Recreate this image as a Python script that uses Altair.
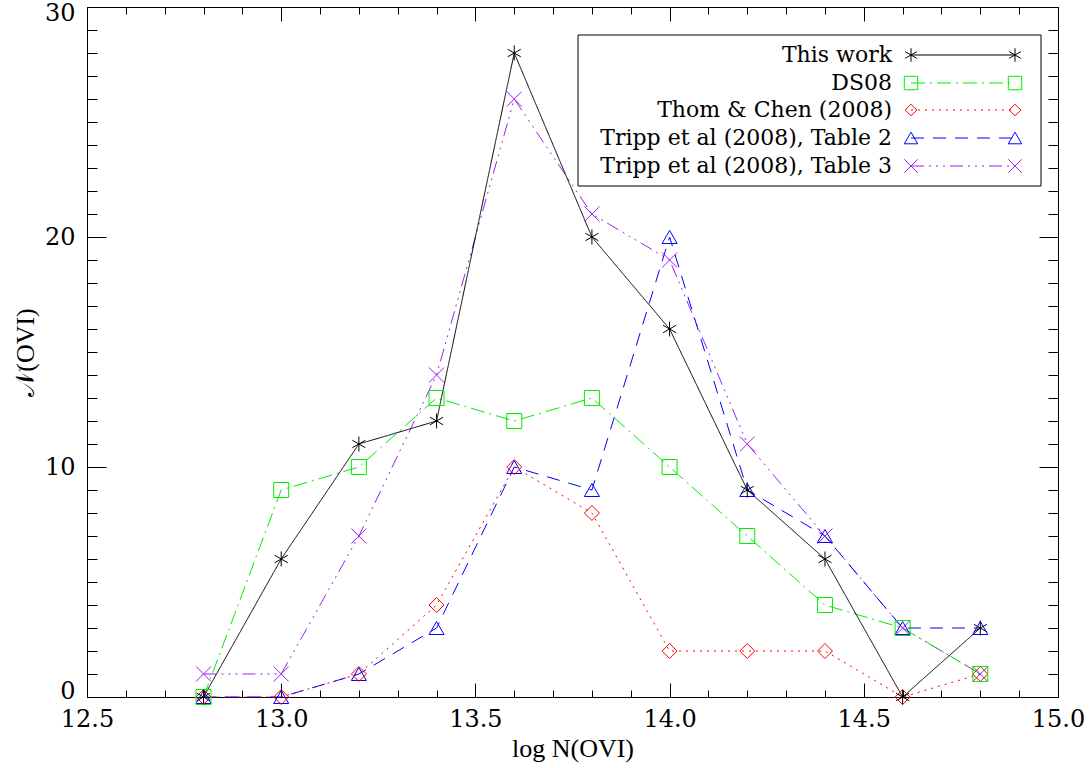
import altair as alt
import pandas as pd

# ---- data ----
x_vals = [12.8, 13.0, 13.2, 13.4, 13.6, 13.8, 14.0, 14.2, 14.4, 14.6, 14.8]
this_work = [0, 6, 11, 12, 28, 20, 16, 9, 6, 0, 3]
ds08 = [0, 9, 10, 13, 12, 13, 10, 7, 4, 3, 1]
thom_chen = [0, 0, 1, 4, 10, 8, 2, 2, 2, 0, 1]
tripp_t2 = [0, 0, 1, 3, 10, 9, 20, 9, 7, 3, 3]
tripp_t3 = [1, 1, 7, 14, 26, 21, 19, 11, 7, 3, 1]

series_names = [
    "This work",
    "DS08",
    "Thom & Chen (2008)",
    "Tripp et al (2008), Table 2",
    "Tripp et al (2008), Table 3",
]
series_values = [this_work, ds08, thom_chen, tripp_t2, tripp_t3]
series_colors = ["#000000", "#00ee00", "#ff0000", "#0000ff", "#a020f0"]
series_dashes = [[1, 0], [14, 5, 2, 5], [2, 5], [13, 9], [13, 5, 2, 5, 2, 5, 2, 5]]
asterisk = "M0,-1L0,1M-0.87,-0.5L0.87,0.5M-0.87,0.5L0.87,-0.5"
xcross = "M-1,-1L1,1M-1,1L1,-1"
series_shapes = [asterisk, "square", "diamond", "triangle-up", xcross]
series_sizes = [225, 225, 169, 225, 225]

x_major = [12.5, 13.0, 13.5, 14.0, 14.5, 15.0]
x_minor = [round(12.5 + 0.1 * i, 1) for i in range(26)]
y_major = [0, 10, 20, 30]
y_minor = list(range(0, 31))

FONT = "DejaVu Serif"
TFONT = "Liberation Serif"
W, H = 971, 690

rows = []
# draw "This work" last so it sits on top
for name, vals in reversed(list(zip(series_names, series_values))):
    for xv, yv in zip(x_vals, vals):
        rows.append({"x": xv, "y": yv, "series": name})
df = pd.DataFrame(rows)

xscale = alt.Scale(domain=[12.5, 15.0], nice=False, zero=False)
yscale = alt.Scale(domain=[0, 30], nice=False, zero=False)
color = alt.Color("series:N", scale=alt.Scale(domain=series_names, range=series_colors), legend=None)
dash = alt.StrokeDash("series:N", scale=alt.Scale(domain=series_names, range=series_dashes), legend=None)
shape = alt.Shape("series:N", scale=alt.Scale(domain=series_names, range=series_shapes), legend=None)
size = alt.Size("series:N", scale=alt.Scale(domain=series_names, range=series_sizes), legend=None)

base = alt.Chart(df)

lines = base.mark_line(strokeWidth=1).encode(
    x=alt.X("x:Q", scale=xscale, axis=alt.Axis(
        orient="bottom", values=x_major, format=".1f", title="log N(OVI)",
        labelFont=FONT, labelFontSize=24, titleFont=TFONT, titleFontSize=26,
        titleFontWeight="normal", labelColor="black", titleColor="black",
        ticks=False, domain=False, labelPadding=10, titlePadding=4,
        grid=True, gridColor="black", gridOpacity=1, gridWidth=1,
        gridDash=[14, H - 28, 14], labelFlush=False)),
    y=alt.Y("y:Q", scale=yscale, axis=alt.Axis(
        orient="left", values=y_major, title="𝒩(OVI)",
        labelFont=FONT, labelFontSize=24, titleFont=TFONT, titleFontSize=26,
        titleFontWeight="normal", labelColor="black", titleColor="black",
        ticks=False, domain=False, labelPadding=12, titlePadding=6,
        grid=True, gridColor="black", gridOpacity=1, gridWidth=1,
        gridDash=[19, W - 38, 19], labelFlush=True, labelFlushOffset=6)),
    color=color,
    strokeDash=dash,
    detail="series:N",
)

minor = base.mark_point(opacity=0).encode(
    x=alt.X("x:Q", scale=xscale, axis=alt.Axis(
        orient="top", values=x_minor, labels=False, ticks=False, domain=False,
        title=None, grid=True, gridColor="black", gridOpacity=1, gridWidth=1,
        gridDash=[7, H - 14, 7])),
    y=alt.Y("y:Q", scale=yscale, axis=alt.Axis(
        orient="right", values=y_minor, labels=False, ticks=False, domain=False,
        title=None, grid=True, gridColor="black", gridOpacity=1, gridWidth=1,
        gridDash=[10, W - 20, 10])),
)

points = base.mark_point(filled=False, strokeWidth=1, opacity=1).encode(
    x=alt.X("x:Q", scale=xscale, axis=None),
    y=alt.Y("y:Q", scale=yscale, axis=None),
    color=color,
    shape=shape,
    size=size,
)

# ---- legend box ----
one = pd.DataFrame({"k": [0]})
box = alt.Chart(one).mark_rect(fill="white", stroke="black", strokeWidth=1).encode(
    x=alt.value(491), x2=alt.value(954), y=alt.value(28), y2=alt.value(179)
)
legend_layers = [box]
row_y = [48, 76, 103, 131, 159]
for i, name in enumerate(series_names):
    d = pd.DataFrame({"series": [name]})
    c = alt.Chart(d)
    legend_layers.append(
        c.mark_text(text=name, font=FONT, fontSize=22, align="right",
                    baseline="middle", color="black").encode(
            x=alt.value(805), y=alt.value(row_y[i]))
    )
    legend_layers.append(
        c.mark_rule(strokeWidth=1, color=series_colors[i],
                    strokeDash=series_dashes[i]).encode(
            x=alt.value(824), x2=alt.value(928), y=alt.value(row_y[i]))
    )
    for px in (824, 928):
        legend_layers.append(
            c.mark_point(shape=series_shapes[i], size=series_sizes[i] * 0.8,
                         filled=False, strokeWidth=1, color=series_colors[i],
                         opacity=1).encode(
                x=alt.value(px), y=alt.value(row_y[i]))
        )

chart = alt.layer(lines, minor, points, *legend_layers).resolve_axis(
    x="independent", y="independent"
).properties(
    width=W, height=H,
    autosize=alt.AutoSizeParams(type="none"),
    padding={"left": 87, "top": 7, "right": 1092 - 87 - W, "bottom": 768 - 7 - H},
    background="white",
).configure_view(stroke="black", strokeWidth=1)

chart.save("out.html", embed_options={"renderer": "svg", "actions": False})
